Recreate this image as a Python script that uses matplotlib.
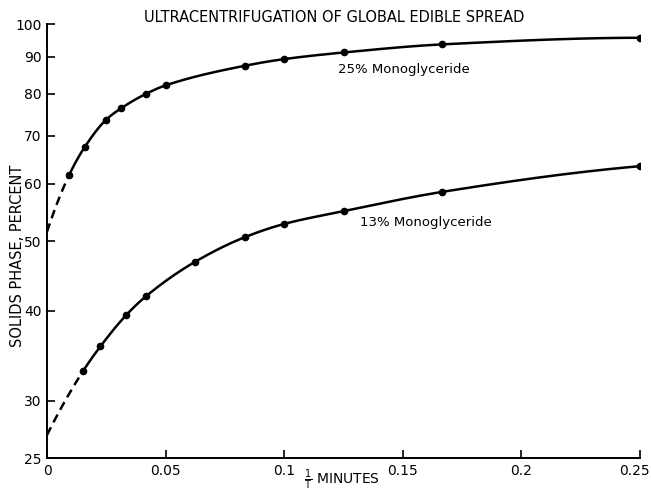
import numpy as np
import matplotlib
matplotlib.use("Agg")
import matplotlib.pyplot as plt
from matplotlib.ticker import FixedLocator, FixedFormatter, NullLocator
from matplotlib.transforms import ScaledTranslation

# ---- data ----
x_25 = [0.0093, 0.0159, 0.025, 0.03125, 0.0417, 0.05, 0.0833, 0.1, 0.125, 0.1667, 0.25]
y_25 = [61.7, 67.5, 73.7, 76.4, 80.0, 82.2, 87.5, 89.4, 91.3, 93.7, 95.7]
intercept_25 = 51.5

x_13 = [0.0152, 0.0225, 0.0335, 0.0417, 0.0625, 0.0833, 0.1, 0.125, 0.1667, 0.25]
y_13 = [33.0, 35.7, 39.5, 41.9, 46.8, 50.6, 52.8, 55.0, 58.5, 63.5]
intercept_13 = 26.9

x_ticks = [0, 0.05, 0.1, 0.15, 0.2, 0.25]
x_ticklabels = ["0", "0.05", "0.1", "0.15", "0.2", "0.25"]
y_ticks = [25, 30, 40, 50, 60, 70, 80, 90, 100]
y_ticklabels = ["25", "30", "40", "50", "60", "70", "80", "90", "100"]

title = "ULTRACENTRIFUGATION OF GLOBAL EDIBLE SPREAD"
ylabel = "SOLIDS PHASE, PERCENT"
label_25 = "25% Monoglyceride"
label_13 = "13% Monoglyceride"


def pchip(x, y, xn):
    x = np.asarray(x, float); y = np.asarray(y, float)
    h = np.diff(x); d = np.diff(y) / h
    n = len(x); m = np.zeros(n)
    for k in range(1, n - 1):
        if d[k - 1] * d[k] <= 0:
            m[k] = 0
        else:
            w1 = 2 * h[k] + h[k - 1]; w2 = h[k] + 2 * h[k - 1]
            m[k] = (w1 + w2) / (w1 / d[k - 1] + w2 / d[k])
    def endslope(h0, h1, d0, d1):
        s = ((2 * h0 + h1) * d0 - h0 * d1) / (h0 + h1)
        if np.sign(s) != np.sign(d0):
            s = 0
        elif np.sign(d0) != np.sign(d1) and abs(s) > abs(3 * d0):
            s = 3 * d0
        return s
    m[0] = endslope(h[0], h[1], d[0], d[1])
    m[-1] = endslope(h[-1], h[-2], d[-1], d[-2])
    idx = np.clip(np.searchsorted(x, xn) - 1, 0, n - 2)
    t = (xn - x[idx]) / h[idx]
    h00 = 2 * t**3 - 3 * t**2 + 1; h10 = t**3 - 2 * t**2 + t
    h01 = -2 * t**3 + 3 * t**2; h11 = t**3 - t**2
    return h00 * y[idx] + h10 * h[idx] * m[idx] + h01 * y[idx + 1] + h11 * h[idx] * m[idx + 1]


fig = plt.figure(figsize=(6.51, 4.91), dpi=100)
ax = fig.add_axes([47 / 651, 1 - 458 / 491, 593 / 651, 434 / 491])

for xs, ys, b in [(x_25, y_25, intercept_25), (x_13, y_13, intercept_13)]:
    xa = np.r_[0.0, xs]
    la = np.log10(np.r_[b, ys])
    xd = np.linspace(0, xs[0], 60)
    ax.plot(xd, 10 ** pchip(xa, la, xd), color="black", lw=1.8, ls=(0, (3.5, 2.2)))
    xf = np.linspace(xs[0], xs[-1], 500)
    ax.plot(xf, 10 ** pchip(xa, la, xf), color="black", lw=1.8)
    ax.plot(xs, ys, "o", color="black", ms=4.5)

ax.set_yscale("log")
ax.set_xlim(0, 0.25)
ax.set_ylim(25, 100)
ax.xaxis.set_major_locator(FixedLocator(x_ticks))
ax.xaxis.set_major_formatter(FixedFormatter(x_ticklabels))
ax.yaxis.set_major_locator(FixedLocator(y_ticks))
ax.yaxis.set_major_formatter(FixedFormatter(y_ticklabels))
ax.yaxis.set_minor_locator(NullLocator())
ax.xaxis.set_minor_locator(NullLocator())
ax.tick_params(direction="in", length=6, width=1.2, labelsize=10, pad=4)
for s in ["top", "right"]:
    ax.spines[s].set_visible(False)
for s in ["left", "bottom"]:
    ax.spines[s].set_linewidth(1.4)

fig.canvas.draw()
last = ax.get_xticklabels()[-1]
last.set_transform(last.get_transform() + ScaledTranslation(-6 / 100, 0, fig.dpi_scale_trans))

ax.text(0.1226, 86.4, label_25, fontsize=9.5, va="center", ha="left")
ax.text(0.1321, 53.0, label_13, fontsize=9.5, va="center", ha="left")

fig.text(334 / 651, 1 - 18 / 491, title, fontsize=10.5, ha="center", va="center")
fig.text(18 / 651, 1 - 256 / 491, ylabel, fontsize=10.5, ha="center", va="center", rotation=90)
fig.text(342 / 651, 1 - 480 / 491, r"$\frac{\mathrm{1}}{\mathrm{T}}$ MINUTES", fontsize=10,
         ha="center", va="center")

fig.savefig("out.png", dpi=100)
